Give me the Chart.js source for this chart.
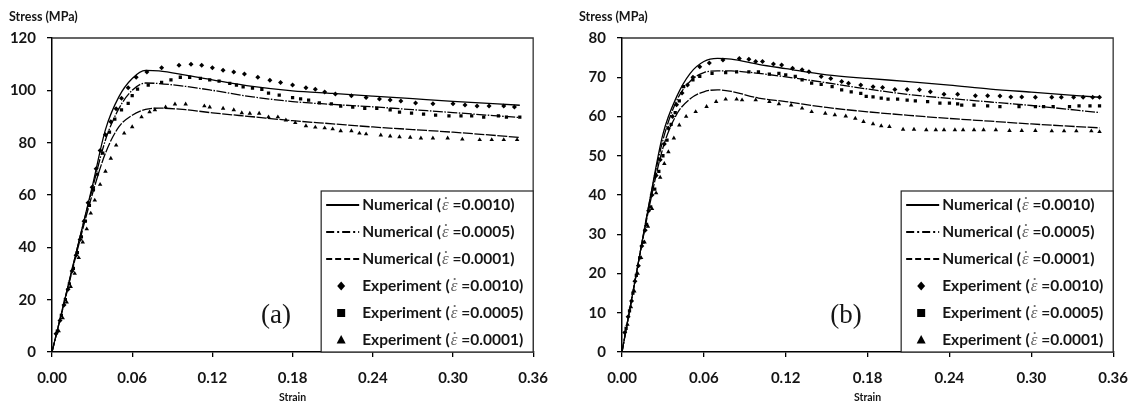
<!DOCTYPE html>
<html>
<head>
<meta charset="utf-8">
<script src="https://cdn.jsdelivr.net/npm/chart.js@4.4.1/dist/chart.umd.min.js"></script>
<style>
  html, body { margin: 0; padding: 0; background: #fff; }
  #wrap { position: relative; width: 1140px; height: 407px; overflow: hidden; }
  canvas { position: absolute; top: 0; }
</style>
</head>
<body>
<div id="wrap">
  <canvas id="chartA" width="560" height="407" style="left:0"></canvas>
  <canvas id="chartB" width="570" height="407" style="left:570px"></canvas>
</div>
<script>
// strain points used by the numerical curves
const numStrain = [0, 0.01, 0.02, 0.03, 0.04, 0.05, 0.06, 0.07, 0.08, 0.10, 0.12, 0.15, 0.18, 0.21, 0.24, 0.27, 0.30, 0.35];

// panel (a) numerical
const aNum0010 = [0, 21, 42, 63, 85, 97.5, 104.5, 107.6, 107.4, 105.8, 104, 101.5, 99.8, 98.8, 97.8, 96.8, 95.8, 94.3];
const aNum0005 = [0, 21, 42, 62, 81, 93, 100, 102.8, 102.6, 101.5, 100, 97.5, 95.7, 94.6, 93.7, 92.6, 91.5, 89.6];
const aNum0001 = [0, 20.5, 41, 60, 76, 86, 90.5, 92.7, 93.2, 92.6, 91.4, 89.9, 88.4, 87.2, 86, 85, 84, 82];

// panel (a) experiments
const aExp0010Strain = [0.003, 0.006, 0.009, 0.012, 0.015, 0.018, 0.021, 0.024, 0.027, 0.030, 0.033, 0.036, 0.040, 0.044, 0.048, 0.052, 0.057, 0.063, 0.071, 0.082, 0.095, 0.104, 0.112, 0.120, 0.128, 0.136, 0.144, 0.154, 0.163, 0.171, 0.180, 0.190, 0.197, 0.204, 0.212, 0.224, 0.235, 0.245, 0.253, 0.261, 0.272, 0.285, 0.300, 0.309, 0.318, 0.327, 0.338, 0.346];
const aExp0010Stress = [7, 12, 18, 24, 31, 37, 43, 50, 57, 63, 70, 77, 83, 88, 93, 97, 101, 105, 107, 108.6, 109.6, 110, 109.6, 108.6, 107.7, 107, 106.2, 105, 103.9, 103, 102, 101, 100.4, 99.4, 98.6, 97.9, 97.3, 96.7, 96.3, 95.9, 95.2, 94.9, 94.9, 94.4, 94, 94, 94, 93.6];

const aExp0005Strain = [0.004, 0.007, 0.010, 0.013, 0.016, 0.019, 0.022, 0.025, 0.028, 0.031, 0.034, 0.038, 0.043, 0.047, 0.052, 0.057, 0.060, 0.064, 0.072, 0.082, 0.089, 0.096, 0.103, 0.111, 0.118, 0.125, 0.133, 0.138, 0.143, 0.150, 0.157, 0.162, 0.170, 0.180, 0.186, 0.192, 0.200, 0.209, 0.216, 0.225, 0.234, 0.243, 0.253, 0.260, 0.269, 0.278, 0.287, 0.297, 0.306, 0.314, 0.323, 0.334, 0.340, 0.350];
const aExp0005Stress = [8, 14, 20, 26, 32, 38, 44, 50, 56, 62, 68, 76, 84, 89, 92.5, 95, 98, 100.5, 102, 103, 104, 105, 105, 104.6, 104, 103.5, 102.7, 102, 101.3, 100.8, 100.4, 98.9, 98.2, 97.2, 96.7, 96.3, 95.2, 94.8, 94, 93.6, 93.1, 93.1, 92.5, 91.7, 91.3, 90.9, 90.5, 90.2, 90.2, 90.2, 89.8, 90.2, 89.8, 89.8];

const aExp0001Strain = [0.005, 0.008, 0.011, 0.014, 0.017, 0.020, 0.023, 0.026, 0.029, 0.032, 0.036, 0.040, 0.044, 0.048, 0.054, 0.060, 0.067, 0.073, 0.077, 0.085, 0.092, 0.100, 0.114, 0.118, 0.128, 0.136, 0.142, 0.148, 0.155, 0.162, 0.169, 0.175, 0.182, 0.190, 0.197, 0.204, 0.210, 0.216, 0.224, 0.230, 0.235, 0.246, 0.253, 0.260, 0.268, 0.276, 0.285, 0.296, 0.307, 0.320, 0.329, 0.338, 0.348];
const aExp0001Stress = [8, 13, 19, 25, 30, 36, 42, 47, 53, 58, 64, 69, 74, 79, 83.6, 86, 89.8, 91.7, 92.5, 93.6, 94.7, 94.7, 94, 93.6, 93.1, 92.5, 91.4, 91.2, 91.2, 89.8, 89.8, 88.6, 87.6, 86.4, 85.9, 85.6, 85.2, 84.5, 84.5, 83.6, 83.3, 82.9, 82.5, 82.2, 82, 81.7, 81.7, 81.7, 81.3, 81.1, 81.1, 81.1, 81.1];

// panel (b) numerical
const bNum0010 = [0, 19, 38, 55.5, 65, 71, 74, 74.8, 74.6, 73.3, 72.2, 70.6, 69.7, 68.9, 68, 67, 66.2, 64.9];
const bNum0005 = [0, 19, 38, 54, 64, 69, 71.2, 71.6, 71.6, 71, 70.1, 68.6, 67, 65.6, 64.6, 63.7, 62.8, 61];
const bNum0001 = [0, 19, 37, 52, 60.5, 64.5, 66.3, 66.8, 66.4, 64.7, 63.8, 62.3, 61.2, 60.3, 59.5, 58.8, 58.1, 57.1];

// panel (b) experiments
const bExp0010Strain = [0.002, 0.0045, 0.007, 0.0095, 0.012, 0.0145, 0.017, 0.0195, 0.022, 0.025, 0.028, 0.031, 0.034, 0.037, 0.040, 0.044, 0.048, 0.052, 0.057, 0.064, 0.074, 0.086, 0.093, 0.098, 0.103, 0.111, 0.117, 0.125, 0.132, 0.137, 0.146, 0.153, 0.161, 0.166, 0.175, 0.184, 0.191, 0.200, 0.209, 0.218, 0.226, 0.236, 0.246, 0.259, 0.268, 0.277, 0.285, 0.293, 0.303, 0.315, 0.322, 0.331, 0.338, 0.345, 0.350];
const bExp0010Stress = [5, 9, 13, 18, 22, 27, 31, 36, 40, 45, 49, 53, 57, 60, 63, 66, 68, 70, 72.7, 73.6, 74.4, 74.8, 74.6, 74, 74, 73.4, 73.1, 72.3, 71.9, 71.4, 70.2, 69.7, 68.9, 68.5, 68, 67.6, 67.4, 66.9, 66.9, 66.8, 66.3, 65.7, 65.7, 65.3, 65.3, 65.2, 65, 65, 64.9, 64.9, 64.9, 64.9, 64.9, 64.9, 64.9];

const bExp0005Strain = [0.003, 0.0055, 0.008, 0.0105, 0.013, 0.0155, 0.018, 0.021, 0.024, 0.027, 0.030, 0.033, 0.036, 0.039, 0.042, 0.045, 0.052, 0.057, 0.066, 0.076, 0.084, 0.093, 0.100, 0.108, 0.115, 0.120, 0.127, 0.132, 0.139, 0.146, 0.154, 0.161, 0.168, 0.175, 0.179, 0.184, 0.190, 0.195, 0.202, 0.209, 0.215, 0.224, 0.233, 0.240, 0.246, 0.249, 0.258, 0.268, 0.277, 0.291, 0.303, 0.309, 0.316, 0.328, 0.335, 0.343, 0.350];
const bExp0005Stress = [6, 10.5, 15, 19.5, 24, 28, 32.5, 37, 41.5, 46, 50, 54, 58, 61, 64, 67.6, 69.3, 70.2, 71, 71.2, 71.4, 71.4, 71.4, 70.8, 71, 70.6, 70.2, 69.3, 68.5, 68.2, 67.6, 66.8, 66.3, 65.9, 65.1, 65, 64.7, 64.4, 64.4, 64.2, 64, 63.8, 63.4, 63.4, 63.2, 62.9, 62.9, 62.7, 62.5, 62.5, 62.5, 62.5, 62.5, 62.5, 62.7, 62.7, 62.7];

const bExp0001Strain = [0.004, 0.0065, 0.009, 0.0115, 0.014, 0.0165, 0.019, 0.022, 0.025, 0.028, 0.031, 0.034, 0.038, 0.042, 0.047, 0.054, 0.062, 0.069, 0.076, 0.084, 0.088, 0.098, 0.108, 0.115, 0.124, 0.132, 0.139, 0.149, 0.156, 0.164, 0.171, 0.177, 0.184, 0.190, 0.196, 0.206, 0.214, 0.223, 0.230, 0.236, 0.244, 0.250, 0.258, 0.265, 0.274, 0.284, 0.293, 0.303, 0.315, 0.324, 0.333, 0.344, 0.350];
const bExp0001Stress = [7, 11.5, 15.5, 20, 24, 28, 32, 36.5, 40.5, 44.5, 48, 51, 54.5, 57.8, 60, 61.2, 62.5, 63.8, 64.4, 64.4, 64.2, 64.2, 63.8, 63.2, 62.9, 62.1, 61.2, 60.8, 60.4, 60.1, 59.5, 58.7, 58.1, 57.6, 57.4, 56.7, 56.7, 56.6, 56.6, 56.6, 56.6, 56.6, 56.6, 56.6, 56.6, 56.4, 56.4, 56.4, 56.3, 56.3, 56.3, 56.3, 56.1];

const rateLabels = ["0.0010", "0.0005", "0.0001"];
const strainTicks = [0, 0.06, 0.12, 0.18, 0.24, 0.30, 0.36];

const TXT = "#151515";
const FONT = "Lato, 'Open Sans', sans-serif";

const zip = (xs, ys) => xs.map((x, i) => ({ x: x, y: ys[i] }));

function numLine(ys, dash) {
  return {
    data: zip(numStrain, ys),
    showLine: true,
    borderColor: "#000",
    borderWidth: 1.3,
    borderDash: dash,
    pointRadius: 0,
    cubicInterpolationMode: "monotone",
  };
}

function expPoints(xs, ys, style, r) {
  return {
    data: zip(xs, ys),
    showLine: false,
    pointStyle: style,
    pointRadius: r,
    pointBorderWidth: 0,
    backgroundColor: "#000",
    borderColor: "#000",
  };
}

// legend marker helpers
function drawMarker(ctx, kind, x, y) {
  ctx.beginPath();
  if (kind === "diamond") {
    ctx.moveTo(x, y - 4.5); ctx.lineTo(x + 4, y); ctx.lineTo(x, y + 4.5); ctx.lineTo(x - 4, y);
  } else if (kind === "square") {
    ctx.rect(x - 4, y - 4, 8, 8);
  } else {
    ctx.moveTo(x, y - 5); ctx.lineTo(x + 4.5, y + 3.5); ctx.lineTo(x - 4.5, y + 3.5);
  }
  ctx.closePath();
  ctx.fill();
}

// box, titles, panel letter and the legend drawn on top of the chart
const decorPlugin = {
  id: "decor",
  afterDraw(chart, args, opts) {
    const ctx = chart.ctx;
    const a = chart.chartArea;
    ctx.save();

    // top + right frame
    ctx.strokeStyle = "#333";
    ctx.lineWidth = 1.3;
    ctx.beginPath();
    ctx.moveTo(a.left, a.top);
    ctx.lineTo(a.right, a.top);
    ctx.lineTo(a.right, a.bottom);
    ctx.stroke();

    ctx.fillStyle = TXT;
    ctx.textBaseline = "middle";
    ctx.textAlign = "left";
    ctx.font = "bold 12.5px " + FONT;
    ctx.fillText("Stress (MPa)", a.left - 43, 17);

    ctx.textAlign = "center";
    ctx.font = "bold 10.5px " + FONT;
    ctx.fillText("Strain", (a.left + a.right) / 2, 398);

    ctx.font = "27px 'Liberation Serif', serif";
    ctx.fillText(opts.letter, a.left + 224, 316);

    // legend box
    const w = 212, h = 161;
    const lx = a.right - w, ly = a.bottom - h;
    ctx.fillStyle = "#fff";
    ctx.fillRect(lx, ly, w, h);
    ctx.strokeStyle = "#222";
    ctx.lineWidth = 1.2;
    ctx.strokeRect(lx, ly, w, h);

    const dashes = [[], [8, 3, 2, 3], [6, 3]];
    const marks = ["diamond", "square", "triangle"];
    for (let i = 0; i < 6; i++) {
      const y = ly + 14 + i * 27;
      const isNum = i < 3;
      const k = i % 3;
      ctx.fillStyle = "#000";
      ctx.strokeStyle = "#000";
      if (isNum) {
        ctx.lineWidth = 2;
        ctx.setLineDash(dashes[k]);
        ctx.beginPath();
        ctx.moveTo(lx + 5, y);
        ctx.lineTo(lx + 38, y);
        ctx.stroke();
        ctx.setLineDash([]);
      } else {
        drawMarker(ctx, marks[k], lx + 20, y);
      }
      let tx = lx + 41;
      ctx.textAlign = "left";
      ctx.fillStyle = TXT;
      ctx.font = "bold 15.5px " + FONT;
      const head = (isNum ? "Numerical" : "Experiment") + " (";
      ctx.fillText(head, tx, y);
      tx += ctx.measureText(head).width + 1;
      // strain-rate symbol: italic epsilon with a dot above
      ctx.font = "italic 17px 'Liberation Serif', serif";
      ctx.fillStyle = "#666";
      ctx.fillText("\u03B5", tx, y + 1);
      const ew = ctx.measureText("\u03B5").width;
      ctx.beginPath();
      ctx.arc(tx + ew * 0.6, y - 7, 1.1, 0, Math.PI * 2);
      ctx.fill();
      tx += ew + 4;
      ctx.font = "bold 15.5px " + FONT;
      ctx.fillStyle = TXT;
      ctx.fillText("=" + rateLabels[k] + ")", tx, y);
    }
    ctx.restore();
  },
};

function makeChart(id, cfg) {
  return new Chart(document.getElementById(id), {
    type: "scatter",
    data: {
      datasets: [
        numLine(cfg.num[0], []),
        numLine(cfg.num[1], [10, 1.5, 1.5, 1.5]),
        numLine(cfg.num[2], [10, 1.5]),
        expPoints(cfg.exp[0][0], cfg.exp[0][1], "rectRot", 2.5),
        expPoints(cfg.exp[1][0], cfg.exp[1][1], "rect", 2.3),
        expPoints(cfg.exp[2][0], cfg.exp[2][1], "triangle", 2.6),
      ],
    },
    options: {
      responsive: false,
      animation: false,
      layout: { padding: { left: 0, right: cfg.padRight, top: 38, bottom: 0 } },
      plugins: {
        legend: { display: false },
        tooltip: { enabled: false },
        decor: { letter: cfg.letter },
      },
      scales: {
        x: {
          type: "linear",
          min: 0,
          max: 0.36,
          afterFit: (s) => { s.height = 55; },
          afterBuildTicks: (s) => { s.ticks = strainTicks.map((v) => ({ value: v })); },
          grid: { display: true, drawOnChartArea: false, drawTicks: true, tickLength: 5, color: "#000", lineWidth: 1.3 },
          border: { display: true, color: "#000", width: 1.5 },
          ticks: {
            padding: 12,
            color: TXT,
            font: { family: FONT, size: 15, weight: "bold" },
            callback: (v) => v.toFixed(2),
            maxRotation: 0,
          },
        },
        y: {
          type: "linear",
          min: 0,
          max: cfg.yMax,
          afterFit: (s) => { s.width = 52; },
          grid: { display: true, drawOnChartArea: false, drawTicks: true, tickLength: 5, color: "#000", lineWidth: 1.3 },
          border: { display: true, color: "#000", width: 1.5 },
          ticks: {
            stepSize: cfg.yStep,
            padding: 11,
            color: TXT,
            font: { family: FONT, size: 15, weight: "bold" },
          },
        },
      },
    },
    plugins: [decorPlugin],
  });
}

makeChart("chartA", {
  letter: "(a)",
  yMax: 120,
  yStep: 20,
  padRight: 18,
  num: [aNum0010, aNum0005, aNum0001],
  exp: [[aExp0010Strain, aExp0010Stress], [aExp0005Strain, aExp0005Stress], [aExp0001Strain, aExp0001Stress]],
});

makeChart("chartB", {
  letter: "(b)",
  yMax: 80,
  yStep: 10,
  padRight: 23,
  num: [bNum0010, bNum0005, bNum0001],
  exp: [[bExp0010Strain, bExp0010Stress], [bExp0005Strain, bExp0005Stress], [bExp0001Strain, bExp0001Stress]],
});
</script>
</body>
</html>
